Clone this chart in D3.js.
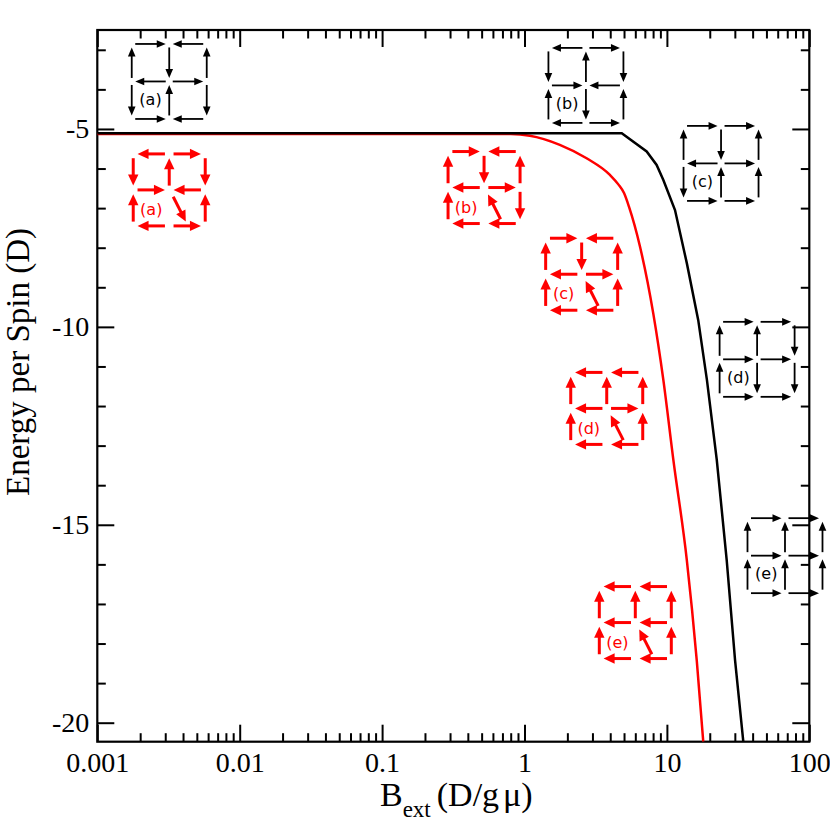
<!DOCTYPE html>
<html>
<head>
<meta charset="utf-8">
<script src="https://cdn.jsdelivr.net/npm/d3@7"></script>
<style>
    body { margin: 0; background: white; }
    #chart { width: 830px; height: 830px; }
</style>
</head>
<body>
<div id="chart"></div>
<script>

// black curve (first model) and red curve (second model)
const bBlack = [0.001, 4.82, 7.21, 8.47, 9.44, 11.4, 13.8, 16.6, 19.1, 22.4, 26.3, 30.1, 34.4];
const eBlack = [-5.11, -5.11, -5.57, -5.91, -6.29, -7.05, -8.39, -9.83, -11.34, -13.36, -15.89, -18.42, -20.48];

const bRed = [0.001, 0.8, 1.09, 1.77, 2.73, 3.98, 4.56, 5.0, 5.4, 6.47, 8.02, 9.44, 11.1, 13.8, 16.2, 18.0];
const eRed = [-5.13, -5.13, -5.17, -5.40, -5.74, -6.16, -6.40, -6.62, -6.95, -7.97, -9.66, -11.34, -13.36, -15.89, -18.42, -20.48];

const xTickValues = [0.001, 0.01, 0.1, 1, 10, 100];
const xTickLabels = ["0.001", "0.01", "0.1", "1", "10", "100"];
const yTickValues = [-5, -10, -15, -20];
const yTickLabels = ["-5", "-10", "-15", "-20"];

// spin configuration insets: labels, anchor (B, E), horizontal arrows (rows top->bottom, left/right)
// and vertical arrows (upper segments of 3 columns, then lower segments). N/S = tilted arrow
const insetLabels = ["(a)", "(b)", "(c)", "(d)", "(e)"];
const blackInsetB = [0.0032, 2.7, 24, 43, 67.5];
const blackInsetE = [-3.8, -3.9, -5.87, -10.82, -15.78];
const blackInsetH = ["RLLRRL", "LRRLLR", "RRLRRR", "RRRRRR", "RRRRRR"];
const blackInsetV = ["UDUDUD", "DUDUDU", "UDUDUU", "UUDUDD", "UUUUUU"];

const redInsetB = [0.0032, 0.52, 2.52, 3.78, 6.0];
const redInsetE = [-6.54, -6.48, -8.67, -12.06, -17.47];
const redInsetH = ["LRRLLR", "RLLRLL", "RLLRLL", "LLLRLL", "LLLLLL"];
const redInsetV = ["DUDUSU", "UDUUND", "UDUUNU", "UUUUNU", "UUUUNU"];

class EnergyVis {

    constructor(parentElement) {
        this.parentElement = parentElement;
        this.initVis();
    }

    initVis() {
        let vis = this;

        vis.margin = { top: 30, right: 20.7, bottom: 88.3, left: 97.3 };
        vis.width = 830 - vis.margin.left - vis.margin.right;
        vis.height = 830 - vis.margin.top - vis.margin.bottom;

        vis.svg = d3.select(vis.parentElement).append("svg")
            .attr("width", 830)
            .attr("height", 830)
            .append("g")
            .attr("transform", "translate(" + vis.margin.left + "," + vis.margin.top + ")");

        vis.xScale = d3.scaleLog()
            .domain([0.001, 100])
            .range([0, vis.width]);

        vis.yScale = d3.scaleLinear()
            .domain([-20.48, -2.5])
            .range([vis.height, 0]);

        vis.svg.append("clipPath")
            .attr("id", "plot-clip")
            .append("rect")
            .attr("width", vis.width)
            .attr("height", vis.height);

        vis.drawAxes();
        vis.updateVis();
    }

    drawAxes() {
        let vis = this;

        let minorX = [];
        [0.001, 0.01, 0.1, 1, 10].forEach(d => d3.range(2, 10).forEach(k => minorX.push(k * d)));
        let minorY = d3.range(-20, -2).filter(d => d % 5 !== 0);

        let tickFmtX = (d, i) => xTickLabels[i];
        let tickFmtY = (d, i) => yTickLabels[i];

        let axes = [
            { cls: "x-bottom", axis: d3.axisBottom(vis.xScale).tickValues(xTickValues).tickFormat(tickFmtX).tickSizeInner(-17).tickSizeOuter(0).tickPadding(10.5), t: [0, vis.height] },
            { cls: "x-bottom-minor", axis: d3.axisBottom(vis.xScale).tickValues(minorX).tickFormat("").tickSizeInner(-8.5).tickSizeOuter(0), t: [0, vis.height] },
            { cls: "x-top", axis: d3.axisTop(vis.xScale).tickValues(xTickValues).tickFormat("").tickSizeInner(-17).tickSizeOuter(0), t: [0, 0] },
            { cls: "x-top-minor", axis: d3.axisTop(vis.xScale).tickValues(minorX).tickFormat("").tickSizeInner(-8.5).tickSizeOuter(0), t: [0, 0] },
            { cls: "y-left", axis: d3.axisLeft(vis.yScale).tickValues(yTickValues).tickFormat(tickFmtY).tickSizeInner(-17).tickSizeOuter(0).tickPadding(8), t: [0, 0] },
            { cls: "y-left-minor", axis: d3.axisLeft(vis.yScale).tickValues(minorY).tickFormat("").tickSizeInner(-8.5).tickSizeOuter(0), t: [0, 0] },
            { cls: "y-right", axis: d3.axisRight(vis.yScale).tickValues(yTickValues).tickFormat("").tickSizeInner(-17).tickSizeOuter(0), t: [vis.width, 0] },
            { cls: "y-right-minor", axis: d3.axisRight(vis.yScale).tickValues(minorY).tickFormat("").tickSizeInner(-8.5).tickSizeOuter(0), t: [vis.width, 0] }
        ];

        axes.forEach(a => {
            let g = vis.svg.append("g")
                .attr("class", a.cls + " axis")
                .attr("transform", "translate(" + a.t[0] + "," + a.t[1] + ")")
                .attr("font-family", "'Liberation Serif', 'Times New Roman', serif")
                .call(a.axis);
            g.select(".domain").remove();
            g.selectAll(".tick line").attr("stroke", "black").attr("stroke-width", 2);
            g.selectAll("text")
                .attr("font-family", "'Liberation Serif', 'Times New Roman', serif")
                .attr("font-size", 28)
                .attr("fill", "black");
        });

        // plot frame
        vis.svg.append("rect")
            .attr("width", vis.width)
            .attr("height", vis.height)
            .attr("fill", "none")
            .attr("stroke", "black")
            .attr("stroke-width", 2.2);

        // axis titles
        let xt = vis.svg.append("text")
            .attr("class", "x_axis_title")
            .attr("x", vis.width / 2 + 3)
            .attr("y", vis.height + 64)
            .attr("text-anchor", "middle")
            .attr("font-family", "'Liberation Serif', 'Times New Roman', serif")
            .attr("font-size", 34)
            .attr("fill", "black");
        xt.append("tspan").text("B");
        xt.append("tspan").attr("font-size", 23).attr("dy", 11).text("ext");
        xt.append("tspan").attr("dy", -11).attr("dx", 6).text("(D/g");
        xt.append("tspan").attr("dx", 4).text("μ)");

        vis.svg.append("text")
            .attr("class", "y_axis_title")
            .attr("transform", "translate(" + (29 - vis.margin.left) + "," + (362 - vis.margin.top) + ")rotate(-90)")
            .attr("text-anchor", "middle")
            .attr("font-family", "'Liberation Serif', 'Times New Roman', serif")
            .attr("font-size", 33)
            .attr("fill", "black")
            .text("Energy per Spin (D)");
    }

    updateVis() {
        let vis = this;

        let line = d3.line()
            .x(d => vis.xScale(d.b))
            .y(d => vis.yScale(d.e));

        let redData = bRed.map((b, i) => ({ b: b, e: eRed[i] }));
        let blackData = bBlack.map((b, i) => ({ b: b, e: eBlack[i] }));

        vis.svg.append("path")
            .datum(redData)
            .attr("class", "red-line")
            .attr("clip-path", "url(#plot-clip)")
            .attr("d", line.curve(d3.curveMonotoneX))
            .attr("fill", "none")
            .attr("stroke", "#ff0000")
            .attr("stroke-width", 2.5);

        vis.svg.append("path")
            .datum(blackData)
            .attr("class", "black-line")
            .attr("clip-path", "url(#plot-clip)")
            .attr("d", line.curve(d3.curveLinear))
            .attr("fill", "none")
            .attr("stroke", "black")
            .attr("stroke-width", 2.5);

        // insets
        insetLabels.forEach((lab, i) => {
            vis.drawInset(vis.xScale(blackInsetB[i]), vis.yScale(blackInsetE[i]), blackInsetH[i], blackInsetV[i], lab,
                { color: "black", s: 37.5, sw: 1.8, hl: 9, hw: 3.8, gap: 3.5, lx: 0.5, ly: 0.63 });
            vis.drawInset(vis.xScale(redInsetB[i]), vis.yScale(redInsetE[i]), redInsetH[i], redInsetV[i], lab,
                { color: "#ff0000", s: 36, sw: 3, hl: 11, hw: 5.2, gap: 4.3, lx: 0.5, ly: 0.7 });
        });
    }

    arrow(g, x1, y1, x2, y2, o) {
        let dx = x2 - x1, dy = y2 - y1, L = Math.hypot(dx, dy);
        let ux = dx / L, uy = dy / L;
        let bx = x2 - ux * o.hl, by = y2 - uy * o.hl;
        g.append("line")
            .attr("x1", x1).attr("y1", y1)
            .attr("x2", bx + ux * 1).attr("y2", by + uy * 1)
            .attr("stroke", o.color)
            .attr("stroke-width", o.sw);
        g.append("path")
            .attr("d", "M" + x2 + "," + y2 + "L" + (bx - uy * o.hw) + "," + (by + ux * o.hw) + "L" + (bx + uy * o.hw) + "," + (by - ux * o.hw) + "Z")
            .attr("fill", o.color);
    }

    drawInset(cx, cy, hCodes, vCodes, label, o) {
        let vis = this;
        let g = vis.svg.append("g").attr("class", "inset");
        let s = o.s;
        let nx = c => cx + (c - 1) * s;
        let ny = r => cy + (r - 1) * s;

        // horizontal bonds
        for (let r = 0; r < 3; r++) {
            for (let c = 0; c < 2; c++) {
                let code = hCodes[r * 2 + c];
                let xa = nx(c) + o.gap, xb = nx(c + 1) - o.gap;
                if (code === "R") vis.arrow(g, xa, ny(r), xb, ny(r), o);
                else vis.arrow(g, xb, ny(r), xa, ny(r), o);
            }
        }
        // vertical bonds
        for (let r = 0; r < 2; r++) {
            for (let c = 0; c < 3; c++) {
                let code = vCodes[r * 3 + c];
                let ya = ny(r) + o.gap, yb = ny(r + 1) - o.gap;
                if (code === "U") vis.arrow(g, nx(c), yb, nx(c), ya, o);
                else if (code === "D") vis.arrow(g, nx(c), ya, nx(c), yb, o);
                else {
                    let tail = [nx(c) + 0.46 * s, ny(1) + 0.88 * s];
                    let head = [nx(c) + 0.11 * s, ny(1) + 0.19 * s];
                    if (code === "N") vis.arrow(g, tail[0], tail[1], head[0], head[1], o);
                    else vis.arrow(g, head[0], head[1], tail[0], tail[1], o);
                }
            }
        }

        g.append("text")
            .attr("x", nx(0) + o.lx * s)
            .attr("y", ny(1) + o.ly * s)
            .attr("text-anchor", "middle")
            .attr("font-family", "'DejaVu Sans', sans-serif")
            .attr("font-size", 16)
            .attr("fill", o.color)
            .text(label);
    }
}

new EnergyVis(document.getElementById("chart"));

</script>
</body>
</html>
